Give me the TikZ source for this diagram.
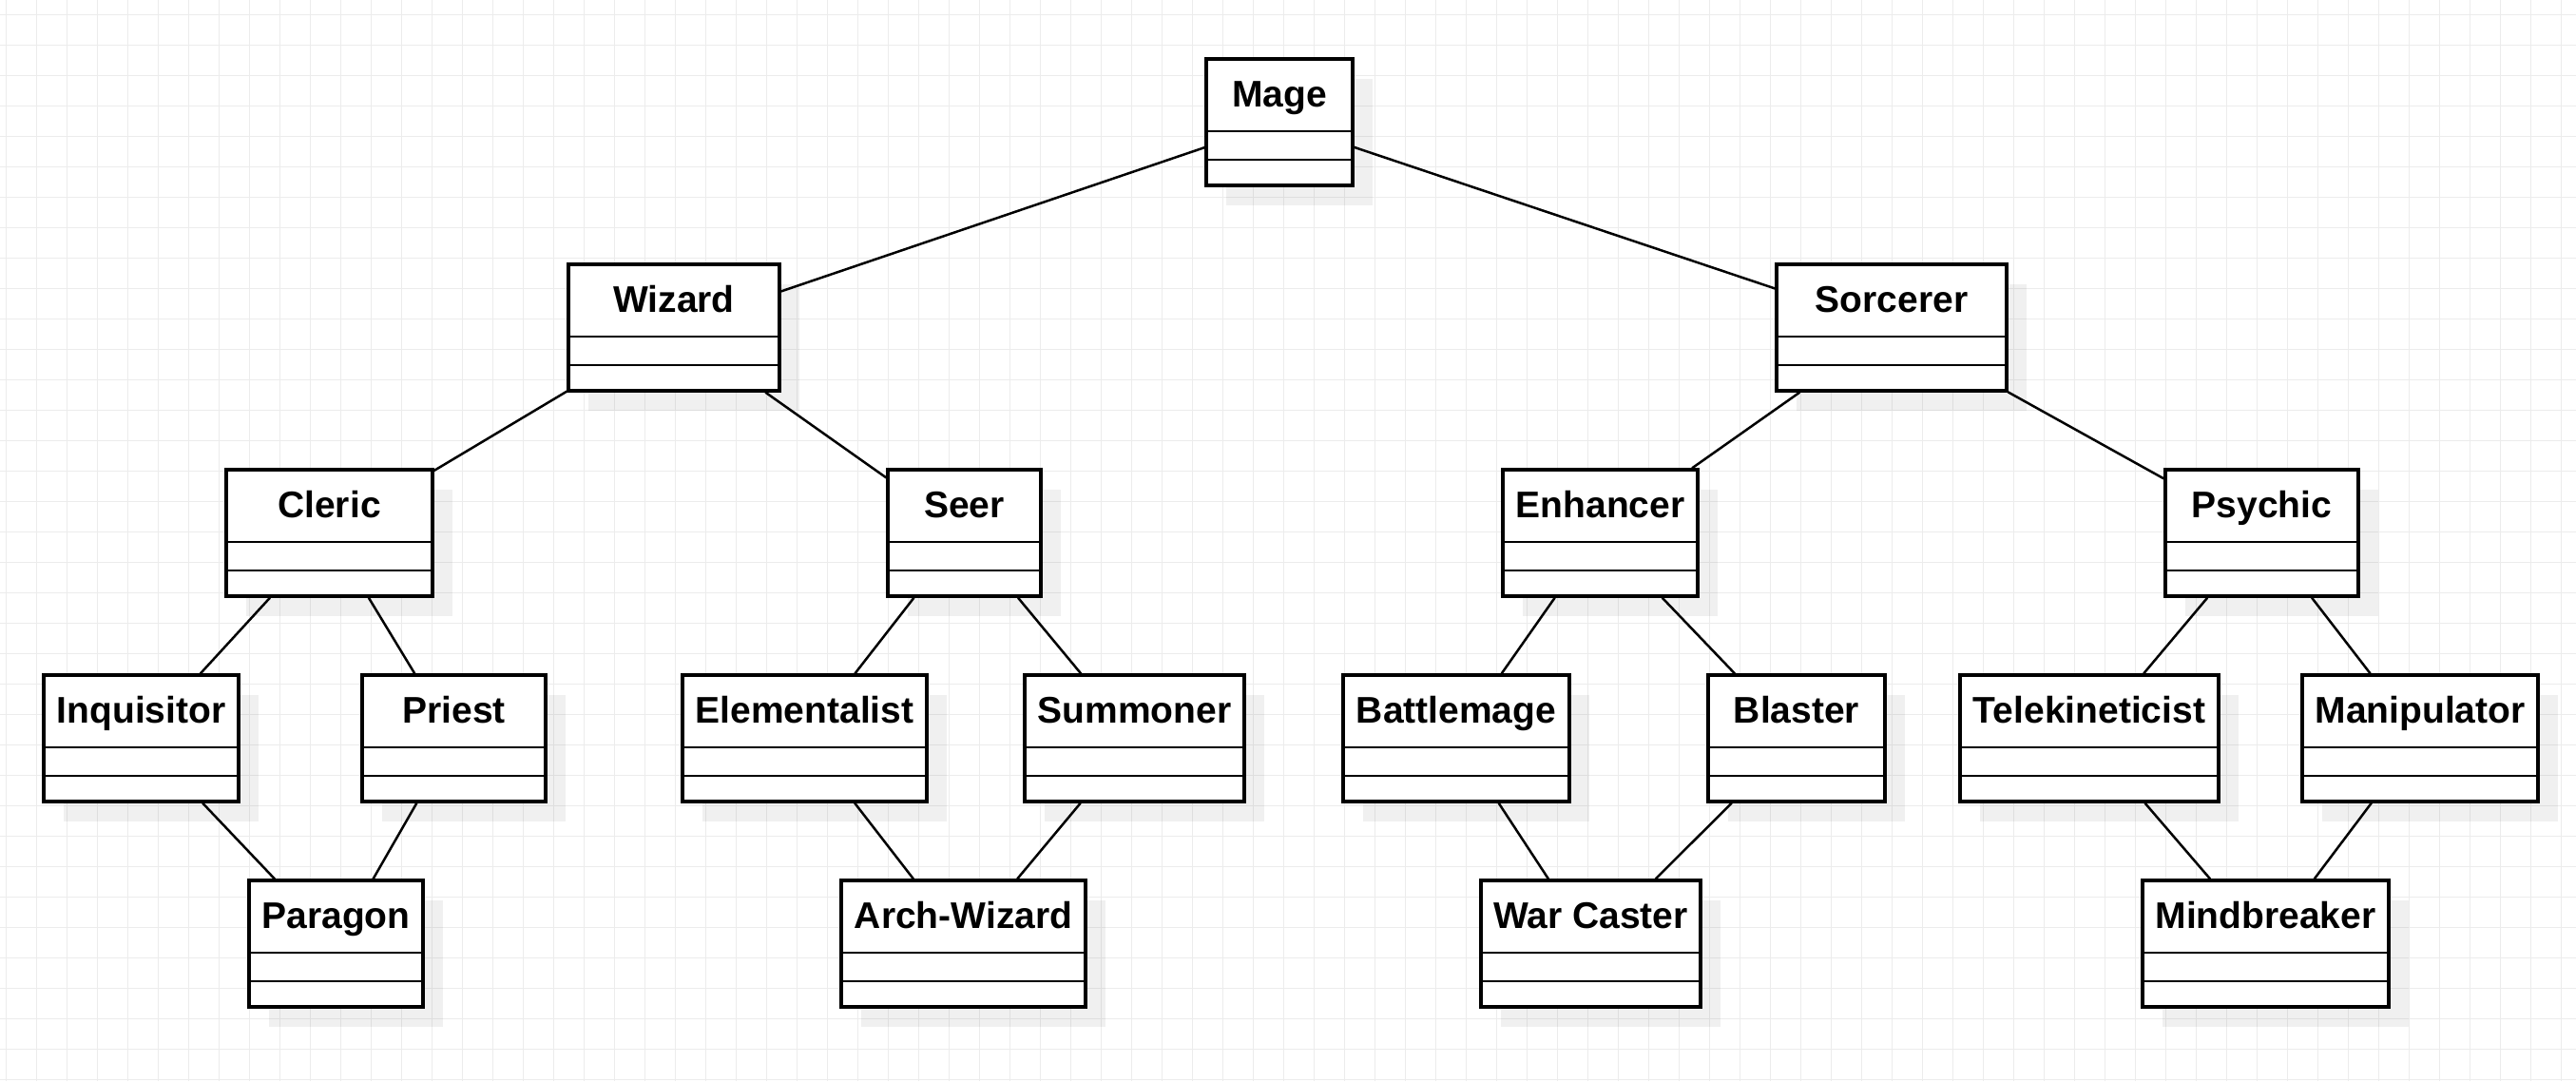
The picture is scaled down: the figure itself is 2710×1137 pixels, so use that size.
\documentclass[tikz,border=0pt]{standalone}
\usepackage{fontspec}
\setmainfont{Liberation Sans}
\usetikzlibrary{shadows}
\definecolor{gridgray}{RGB}{236,236,236}
\tikzset{
  classbox/.style={draw, line width=1.65pt, fill=white, rectangle,
    minimum height=66.5pt, inner xsep=0pt, inner ysep=0pt,
    text height=25.25pt, text depth=41.25pt,
    font=\bfseries\fontsize{19.5pt}{23pt}\selectfont,
    drop shadow={shadow xshift=10.5pt, shadow yshift=-10.5pt, fill=black, opacity=0.06},
    path picture={
      \draw[line width=1.35pt] ([yshift=-38pt]path picture bounding box.north west)
                            -- ([yshift=-38pt]path picture bounding box.north east);
      \draw[line width=1.35pt] ([yshift=-53pt]path picture bounding box.north west)
                            -- ([yshift=-53pt]path picture bounding box.north east);
    }},
  link/.style={line width=1.25pt},
  gridline/.style={draw=gridgray, line width=0.5pt}
}
\begin{document}
\begin{tikzpicture}[x=0.5pt, y=-0.5pt]
        % fond et grille
        \fill[white] (0,0) rectangle (2710,1137);
        \useasboundingbox (0,0) rectangle (2710,1137);
        \foreach \gx in {6,38,...,2710} \draw[gridline] (\gx,0) -- (\gx,1137);
        \foreach \gy in {15,47,...,1137} \draw[gridline] (0,\gy) -- (2710,\gy);
        % racine
        \node[classbox, minimum width=77pt] (mage) at (1346,128.5) {Mage};
        % niveau 1
        \node[classbox, minimum width=111pt] (wizard) at (709,344.5) {Wizard};
        \node[classbox, minimum width=121pt] (sorcerer) at (1990,344.5) {Sorcerer};
        % niveau 2
        \node[classbox, minimum width=108.5pt] (cleric) at (346.5,560.5) {Cleric};
        \node[classbox, minimum width=80.5pt] (seer) at (1014.5,560.5) {Seer};
        \node[classbox, minimum width=102.5pt] (enhancer) at (1683.5,560.5) {Enhancer};
        \node[classbox, minimum width=101.5pt] (psychic) at (2379.5,560.5) {Psychic};
        % niveau 3
        \node[classbox, minimum width=102.5pt] (inquisitor) at (148.5,776.5) {Inquisitor};
        \node[classbox, minimum width=96.5pt] (priest) at (477.5,776.5) {Priest};
        \node[classbox, minimum width=128.5pt] (elementalist) at (846.5,776.5) {Elementalist};
        \node[classbox, minimum width=115.5pt] (summoner) at (1193.5,776.5) {Summoner};
        \node[classbox, minimum width=119pt] (battlemage) at (1532,776.5) {Battlemage};
        \node[classbox, minimum width=93pt] (blaster) at (1890,776.5) {Blaster};
        \node[classbox, minimum width=136pt] (telekineticist) at (2198,776.5) {Telekineticist};
        \node[classbox, minimum width=124pt] (manipulator) at (2546,776.5) {Manipulator};
        % niveau 4
        \node[classbox, minimum width=91.5pt] (paragon) at (353.5,992.5) {Paragon};
        \node[classbox, minimum width=128.5pt] (archwizard) at (1013.5,992.5) {Arch-Wizard};
        \node[classbox, minimum width=115.5pt] (warcaster) at (1673.5,992.5) {War Caster};
        \node[classbox, minimum width=129.5pt] (mindbreaker) at (2383.5,992.5) {Mindbreaker};
        % liens
        \foreach \a/\b in {mage/wizard, mage/sorcerer,
                           wizard/cleric, wizard/seer, sorcerer/enhancer, sorcerer/psychic,
                           cleric/inquisitor, cleric/priest, seer/elementalist, seer/summoner,
                           enhancer/battlemage, enhancer/blaster,
                           psychic/telekineticist, psychic/manipulator,
                           inquisitor/paragon, priest/paragon,
                           elementalist/archwizard, summoner/archwizard,
                           battlemage/warcaster, blaster/warcaster,
                           telekineticist/mindbreaker, manipulator/mindbreaker}
          \draw[link] (\a) -- (\b);
\end{tikzpicture}
\end{document}
